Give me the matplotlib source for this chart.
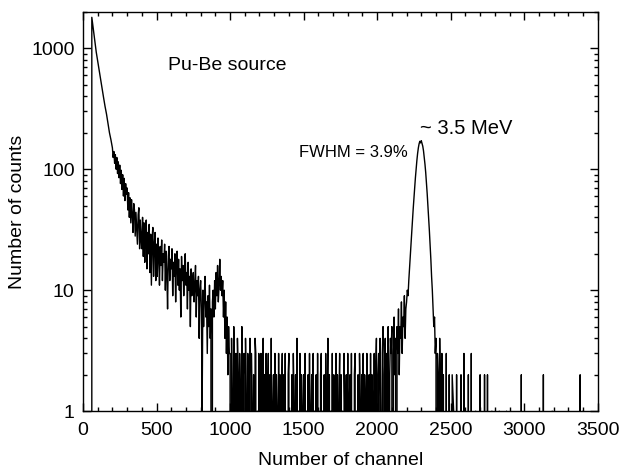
import numpy as np
import matplotlib.pyplot as plt
from matplotlib.ticker import MultipleLocator, FixedLocator, LogLocator, NullFormatter

plt.rcParams['font.family'] = ['Liberation Sans', 'DejaVu Sans']

# counts
# steep rise and smooth fall, channels 50..190 (every 10)
rise = [0, 1800, 1450, 1150, 930, 780, 660, 550, 460, 390, 330, 285, 240, 200, 175]
# noisy continuum, channels 200..995 (every 5)
decay = [150, 125, 140, 112, 132, 100, 125, 92, 115, 85,
         108, 76, 98, 68, 90, 60, 84, 55, 76, 62,
         70, 46, 64, 40, 58, 36, 56, 42, 30, 52,
         46, 28, 44, 33, 24, 42, 48, 22, 38, 27,
         22, 40, 19, 36, 17, 32, 38, 15, 30, 20,
         35, 14, 29, 11, 27, 33, 13, 24, 30, 12,
         24, 13, 27, 19, 11, 23, 16, 26, 12, 20,
         17, 24, 10, 21, 14, 7, 19, 23, 12, 18,
         15, 22, 9, 17, 13, 20, 8, 16, 21, 11,
         18, 10, 15, 6, 19, 12, 16, 9, 14, 20,
         11, 14, 7, 17, 10, 13, 5, 15, 9, 12,
         14, 8, 11, 16, 6, 12, 9, 13, 4, 10,
         12, 7, 1, 10, 5, 9, 13, 6, 8, 3,
         9, 5, 11, 4, 7, 0, 8, 10, 6, 12,
         7, 14, 9, 16, 8, 11, 18, 10, 13, 9,
         12, 6, 10, 4, 8, 3, 6, 2, 5, 3]
# low flat part, channels 1000..2195 (every 5)
flat = [3, 0, 4, 1, 0, 5, 2, 0, 3, 0, 4, 2, 0, 3, 1, 0, 5, 0, 2, 3,
        0, 4, 1, 0, 3, 0, 2, 4, 0, 3, 1, 0, 2, 0, 4, 3, 0, 1, 0, 3,
        2, 0, 3, 0, 1, 4, 0, 2, 0, 3, 0, 1, 3, 0, 2, 0, 4, 0, 1, 2,
        0, 3, 0, 2, 1, 0, 3, 0, 2, 0, 1, 3, 0, 2, 0, 3, 0, 1, 0, 2,
        3, 0, 1, 0, 2, 0, 3, 1, 0, 2, 0, 4, 0, 1, 0, 3, 0, 2, 1, 0,
        2, 0, 3, 0, 1, 0, 2, 0, 3, 0, 1, 2, 0, 3, 0, 1, 0, 2, 0, 3,
        0, 1, 0, 2, 3, 0, 1, 0, 2, 0, 3, 0, 1, 4, 0, 2, 0, 1, 0, 3,
        0, 2, 1, 0, 3, 0, 2, 0, 1, 3, 0, 2, 0, 1, 0, 3, 1, 0, 2, 0,
        3, 0, 1, 2, 0, 3, 0, 1, 0, 2, 3, 0, 1, 0, 2, 0, 3, 1, 0, 2,
        0, 3, 0, 2, 1, 0, 3, 0, 1, 2, 0, 3, 0, 2, 1, 0, 3, 0, 2, 4,
        0, 2, 3, 0, 4, 1, 0, 3, 5, 0, 2, 4, 0, 3, 1, 5, 0, 2, 4, 3,
        5, 0, 3, 6, 2, 4, 0, 5, 3, 7, 2, 5, 4, 8, 3, 6, 5, 9, 4, 7]
# 3.5 MeV peak, channels 2200..2445 (every 5)
peak = [8, 10, 9, 12, 15, 19, 24, 30, 38, 47,
        58, 70, 85, 100, 118, 135, 150, 162, 170, 165,
        172, 163, 155, 142, 126, 110, 94, 78, 63, 50,
        40, 31, 24, 18, 13, 10, 7, 5, 6, 3,
        4, 0, 3, 2, 0, 4, 1, 0, 3, 0]
# sparse tail, channels 2450..3440 (every 10)
tail = [2, 0, 3, 0, 2, 0, 2, 1, 0, 2,
        0, 0, 2, 0, 3, 0, 0, 2, 0, 3,
        0, 0, 1, 0, 0, 2, 0, 0, 2, 0,
        2, 0, 0, 1, 0, 0, 0, 0, 1, 0,
        0, 0, 0, 1, 0, 0, 0, 0, 0, 0,
        0, 0, 0, 2, 0, 0, 0, 0, 0, 0,
        0, 0, 0, 0, 0, 0, 0, 0, 2, 0,
        0, 0, 0, 0, 1, 0, 0, 0, 0, 0,
        0, 0, 0, 0, 0, 1, 0, 0, 0, 0,
        0, 0, 0, 2, 0, 1, 0, 0, 0, 0]

segments = [(50, 10, rise), (200, 5, decay), (1000, 5, flat), (2200, 5, peak), (2450, 10, tail)]
ch = np.concatenate([start + step * np.arange(len(v)) for start, step, v in segments])
counts = np.concatenate([np.array(v, dtype=float) for _, _, v in segments])

fig = plt.figure(figsize=(6.24, 4.71), dpi=100)
ax = fig.add_axes([0.133, 0.127, 0.825, 0.848])
ax.plot(ch, counts, color='black', lw=1.0)
ax.set_yscale('log', nonpositive='clip')
ax.set_xlim(0, 3500)
ax.set_ylim(1, 2000)

ax.xaxis.set_major_locator(MultipleLocator(500))
ax.xaxis.set_minor_locator(MultipleLocator(100))
ax.yaxis.set_major_locator(FixedLocator([1, 10, 100, 1000]))
ax.yaxis.set_major_formatter(plt.FuncFormatter(lambda v, p: '%d' % v))
ax.yaxis.set_minor_locator(LogLocator(base=10, subs=np.arange(2, 10)))
ax.yaxis.set_minor_formatter(NullFormatter())
ax.tick_params(which='both', direction='in', top=True, right=True, labelsize=14, width=1)
ax.tick_params(which='major', length=6)
ax.tick_params(which='minor', length=3)
ax.tick_params(axis='x', pad=8)
ax.tick_params(axis='y', pad=6)
for s in ax.spines.values():
    s.set_linewidth(1)

ax.set_xlabel('Number of channel', fontsize=14, labelpad=9)
ax.set_ylabel('Number of counts', fontsize=14)

ax.text(580, 720, 'Pu-Be source', fontsize=14, ha='left', va='center')
ax.text(2290, 215, '~ 3.5 MeV', fontsize=14.5, ha='left', va='center')
ax.text(2210, 138, 'FWHM = 3.9%', fontsize=12, ha='right', va='center')

fig.savefig('out.png', dpi=100)
